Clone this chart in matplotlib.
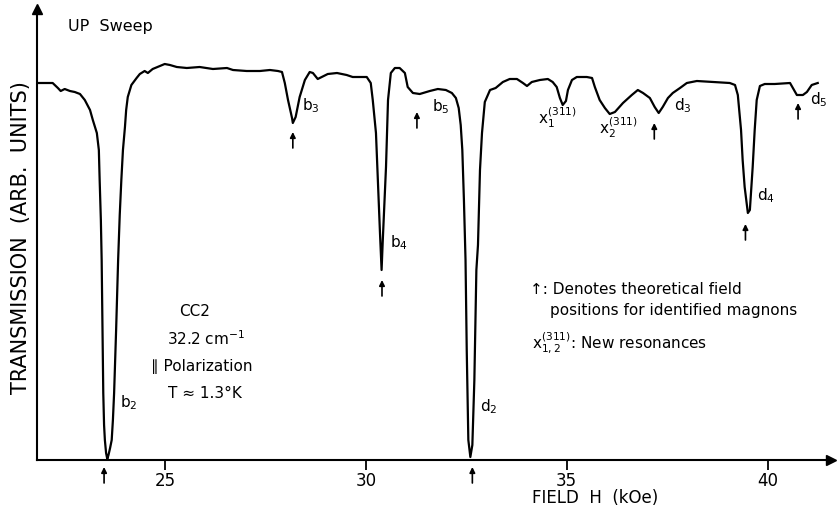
import matplotlib
matplotlib.use("Agg")
import matplotlib.pyplot as plt

# Transmission trace, UP sweep (field in kOe, transmission in arb. units)
field = [
    21.81, 22.00, 22.20, 22.33, 22.40, 22.50, 22.63, 22.75, 22.88, 23.00,
    23.13, 23.20, 23.30, 23.35, 23.37, 23.40, 23.42, 23.44, 23.46, 23.48,
    23.50, 23.53, 23.56, 23.59, 23.63, 23.67, 23.70, 23.73, 23.78, 23.83,
    23.87, 23.91, 23.95, 24.00, 24.03, 24.07, 24.16, 24.29, 24.37, 24.49,
    24.57, 24.69, 24.87, 24.99, 25.12, 25.29, 25.54, 25.86, 26.19, 26.54,
    26.69, 27.03, 27.36, 27.61, 27.81, 27.91, 27.98, 28.06, 28.16, 28.18,
    28.25, 28.35, 28.48, 28.60, 28.68, 28.80, 28.90, 29.05, 29.28, 29.52,
    29.67, 29.85, 30.02, 30.12, 30.17, 30.25, 30.30, 30.35, 30.39, 30.42,
    30.50, 30.55, 30.62, 30.72, 30.84, 30.97, 31.04, 31.17, 31.34, 31.59,
    31.79, 31.99, 32.14, 32.24, 32.31, 32.36, 32.40, 32.44, 32.48, 32.51,
    32.55, 32.60, 32.65, 32.70, 32.75, 32.79, 32.84, 32.89, 32.96, 33.09,
    33.23, 33.41, 33.58, 33.76, 33.91, 34.01, 34.13, 34.33, 34.53, 34.65,
    34.75, 34.83, 34.90, 34.98, 35.03, 35.13, 35.25, 35.50, 35.63, 35.70,
    35.82, 35.95, 36.07, 36.20, 36.40, 36.62, 36.77, 36.90, 37.07, 37.19,
    37.29, 37.39, 37.52, 37.64, 37.82, 37.99, 38.24, 38.64, 39.06, 39.19,
    39.26, 39.34, 39.38, 39.43, 39.51, 39.56, 39.61, 39.63, 39.68, 39.73,
    39.81, 39.93, 40.18, 40.56, 40.63, 40.73, 40.88, 40.98, 41.10, 41.25,
]
transmission = [
    3.77, 3.77, 3.77, 3.72, 3.69, 3.71, 3.69, 3.68, 3.66, 3.60,
    3.50, 3.40, 3.27, 3.10, 2.80, 2.40, 2.00, 1.30, 0.67, 0.35,
    0.20, 0.07, 0.01, 0.05, 0.12, 0.20, 0.40, 0.67, 1.30, 2.00,
    2.45, 2.80, 3.10, 3.33, 3.50, 3.63, 3.75, 3.82, 3.86, 3.89,
    3.87, 3.91, 3.94, 3.96, 3.95, 3.93, 3.92, 3.93, 3.91, 3.92,
    3.90, 3.89, 3.89, 3.90, 3.89, 3.88, 3.77, 3.60, 3.42, 3.37,
    3.43, 3.63, 3.80, 3.88, 3.87, 3.81, 3.83, 3.86, 3.87, 3.85,
    3.83, 3.83, 3.83, 3.77, 3.60, 3.27, 2.77, 2.27, 1.90, 2.20,
    2.93, 3.60, 3.87, 3.92, 3.92, 3.87, 3.73, 3.67, 3.66, 3.69,
    3.71, 3.70, 3.67, 3.62, 3.52, 3.35, 3.10, 2.60, 2.00, 1.10,
    0.20, 0.03, 0.15, 0.80, 1.90, 2.15, 2.90, 3.27, 3.58, 3.70,
    3.72, 3.78, 3.81, 3.81, 3.77, 3.74, 3.78, 3.80, 3.81, 3.78,
    3.73, 3.62, 3.55, 3.59, 3.70, 3.80, 3.83, 3.83, 3.82, 3.73,
    3.60, 3.52, 3.46, 3.48, 3.57, 3.65, 3.70, 3.67, 3.62, 3.53,
    3.47, 3.53, 3.62, 3.67, 3.72, 3.77, 3.79, 3.78, 3.77, 3.75,
    3.65, 3.30, 3.00, 2.73, 2.47, 2.50, 2.80, 2.93, 3.30, 3.60,
    3.74, 3.76, 3.76, 3.77, 3.72, 3.65, 3.65, 3.68, 3.75, 3.77,
]

# Theoretical field positions of the identified magnons
magnon_names = ["b2", "b3", "b4", "b5", "d2", "d3", "d4", "d5"]
magnon_field = [23.48, 28.18, 30.40, 31.27, 32.65, 37.18, 39.45, 40.76]

x_ticks = [25, 30, 35, 40]

# where the little arrows sit (tip height, arb. units)
arrow_tip = [-0.07, 3.28, 1.80, 3.48, -0.07, 3.37, 2.36, 3.57]
ARROW_LEN = 0.16

# peak labels: text, field, height
peak_labels = [
    ("b$_2$", 23.87, 0.57),
    ("b$_3$", 28.40, 3.54),
    ("b$_4$", 30.60, 2.17),
    ("b$_5$", 31.64, 3.53),
    ("d$_2$", 32.84, 0.53),
    ("x$_1^{(311)}$", 34.28, 3.42),
    ("x$_2^{(311)}$", 35.80, 3.32),
    ("d$_3$", 37.67, 3.54),
    ("d$_4$", 39.73, 2.64),
    ("d$_5$", 41.05, 3.60),
]

plt.rcParams["font.family"] = ["DejaVu Sans"]
plt.rcParams["mathtext.default"] = "regular"

W, H = 838, 518
fig = plt.figure(figsize=(W / 100, H / 100), dpi=100)
ax = fig.add_axes([37 / W, 58 / H, 794 / W, 451 / H])

ax.plot(field, transmission, color="black", lw=1.6, solid_joinstyle="round")

ax.set_xlim(21.81, 41.58)
ax.set_ylim(0, 4.51)
ax.set_xticks(x_ticks)
ax.set_xticklabels([str(t) for t in x_ticks], fontsize=12)
ax.set_yticks([])
ax.tick_params(axis="x", direction="out", length=7, width=1.3, pad=2)
for side in ("top", "right"):
    ax.spines[side].set_visible(False)
for side in ("left", "bottom"):
    ax.spines[side].set_linewidth(1.5)

# arrow heads on the axes
ax.plot(1, 0, ">k", ms=7, transform=ax.transAxes, clip_on=False)
ax.plot(0, 1, "^k", ms=7, transform=ax.transAxes, clip_on=False)

for fx, tip in zip(magnon_field, arrow_tip):
    ax.annotate("", xy=(fx, tip), xytext=(fx, tip - ARROW_LEN),
                annotation_clip=False,
                arrowprops=dict(arrowstyle="-|>", color="black", lw=1.2,
                                mutation_scale=8, shrinkA=0, shrinkB=0))

for txt, fx, ty in peak_labels:
    ax.text(fx, ty, txt, fontsize=11, ha="left", va="center")

ax.text(22.58, 4.34, "UP  Sweep", fontsize=11.5, ha="left", va="center")

sample_info = [
    ("CC2", 25.74, 1.49),
    ("32.2 cm$^{-1}$", 26.01, 1.21),
    ("\u2225 Polarization", 25.91, 0.94),
    ("T \u2248 1.3\u00b0K", 25.99, 0.66),
]
for txt, fx, ty in sample_info:
    ax.text(fx, ty, txt, fontsize=11, ha="center", va="center")

ax.text(34.08, 1.71, "\u2191: Denotes theoretical field", fontsize=11, ha="left", va="center")
ax.text(34.58, 1.50, "positions for identified magnons", fontsize=11, ha="left", va="center")
ax.text(34.13, 1.17, "x$_{1,2}^{(311)}$: New resonances", fontsize=11, ha="left", va="center")

fig.text(595 / W, 1 - 498 / H, "FIELD  H  (kOe)", fontsize=12, ha="center", va="center")
fig.text(21 / W, 1 - 238 / H, "TRANSMISSION  (ARB.  UNITS)", fontsize=15,
         ha="center", va="center", rotation=90)

fig.savefig("out.png", dpi=100)
